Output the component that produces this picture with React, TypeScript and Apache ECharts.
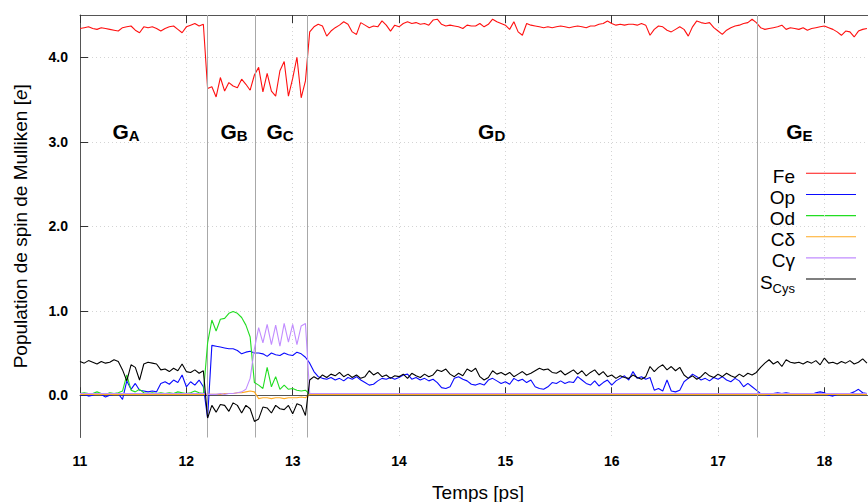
import React, { useEffect, useRef } from "react";
import * as echarts from "echarts";

// sampling grid of the traces (ps)
const T_START = 11;
const T_STEP = 0.04;

// rows of 10 samples, each row = 0.4 ps, starting at 11.0, 11.4, 11.8, ...
const FE = [
  4.34, 4.35, 4.36, 4.34, 4.33, 4.35, 4.34, 4.33, 4.32, 4.31,
  4.35, 4.36, 4.37, 4.32, 4.29, 4.36, 4.35, 4.36, 4.34, 4.31,
  4.34, 4.36, 4.37, 4.33, 4.29, 4.36, 4.38, 4.40, 4.37, 4.39,
  3.63, 3.65, 3.53, 3.76, 3.60, 3.70, 3.66, 3.64, 3.74, 3.68,
  3.61, 3.79, 3.88, 3.59, 3.81, 3.60, 3.54, 3.84, 3.95, 3.54,
  3.75, 4.00, 3.52, 3.72, 4.30, 4.36, 4.39, 4.37, 4.25, 4.31,
  4.35, 4.38, 4.42, 4.39, 4.30, 4.27, 4.41, 4.38, 4.35, 4.37,
  4.36, 4.43, 4.38, 4.31, 4.38, 4.36, 4.40, 4.42, 4.40, 4.41,
  4.39, 4.40, 4.38, 4.44, 4.45, 4.39, 4.37, 4.38, 4.37, 4.36,
  4.34, 4.38, 4.37, 4.37, 4.40, 4.36, 4.39, 4.45, 4.42, 4.40,
  4.38, 4.33, 4.42, 4.30, 4.26, 4.40, 4.38, 4.37, 4.36, 4.35,
  4.36, 4.35, 4.36, 4.37, 4.36, 4.35, 4.36, 4.37, 4.36, 4.35,
  4.37, 4.37, 4.39, 4.40, 4.43, 4.40, 4.38, 4.39, 4.38, 4.39,
  4.39, 4.38, 4.40, 4.38, 4.26, 4.33, 4.37, 4.36, 4.32, 4.30,
  4.33, 4.36, 4.33, 4.25, 4.36, 4.43, 4.41, 4.40, 4.41, 4.35,
  4.31, 4.27, 4.32, 4.35, 4.37, 4.38, 4.40, 4.41, 4.45, 4.41,
  4.35, 4.33, 4.34, 4.35, 4.36, 4.38, 4.33, 4.35, 4.34, 4.33,
  4.35, 4.32, 4.34, 4.35, 4.36, 4.37, 4.35, 4.33, 4.30, 4.26,
  4.31, 4.30, 4.24, 4.31, 4.33, 4.34,
];

const OP = [
  0.00, 0.01, -0.01, 0.00, 0.02, 0.01, -0.02, 0.00, 0.01, 0.02,
  -0.05, 0.17, 0.07, 0.14, 0.06, 0.05, 0.04, 0.05, 0.04, 0.14,
  0.16, 0.13, 0.18, 0.15, 0.24, 0.10, 0.16, 0.12, 0.18, 0.10,
  -0.27, 0.59, 0.58, 0.57, 0.56, 0.55, 0.55, 0.53, 0.49, 0.51,
  0.52, 0.50, 0.50, 0.49, 0.46, 0.50, 0.48, 0.47, 0.50, 0.48,
  0.47, 0.51, 0.49, 0.45, 0.38, 0.28, 0.22, 0.20, 0.19, 0.21,
  0.18, 0.20, 0.17, 0.21, 0.19, 0.22, 0.18, 0.15, 0.12, 0.13,
  0.17, 0.20, 0.19, 0.21, 0.19, 0.21, 0.24, 0.25, 0.19, 0.21,
  0.18, 0.20, 0.17, 0.19, 0.15, 0.09, 0.08, 0.10, 0.20, 0.22,
  0.19, 0.17, 0.13, 0.12, 0.14, 0.12, 0.18, 0.20, 0.17, 0.14,
  0.16, 0.13, 0.20, 0.17, 0.19, 0.15, 0.18, 0.10, 0.08, 0.07,
  0.10, 0.15, 0.14, 0.17, 0.14, 0.16, 0.15, 0.22, 0.18, 0.14,
  0.12, 0.17, 0.11, 0.15, 0.18, 0.12, 0.17, 0.20, 0.23, 0.18,
  0.28, 0.20, 0.22, 0.19, 0.21, 0.06, 0.08, 0.05, 0.18, 0.05,
  0.04, 0.06, 0.16, 0.20, 0.25, 0.22, 0.18, 0.20, 0.17, 0.21,
  0.19, 0.22, 0.18, 0.16, 0.20, 0.17, 0.10, 0.14, 0.10, 0.06,
  0.02, 0.01, 0.00, 0.02, 0.03, 0.02, 0.03, 0.02, 0.02, 0.01,
  0.02, 0.02, 0.01, 0.03, 0.04, 0.03, 0.00, -0.01, 0.01, 0.02,
  0.01, 0.02, 0.04, 0.07, 0.03, 0.02,
];

const OD = [
  0.02, 0.03, 0.02, 0.02, 0.04, 0.02, 0.01, 0.03, 0.02, 0.03,
  0.05, 0.24, 0.06, 0.04, 0.07, 0.03, 0.02, 0.03, 0.02, 0.03,
  0.02, 0.03, 0.02, 0.04, 0.03, 0.02, 0.03, 0.05, 0.03, 0.02,
  0.62, 0.89, 0.76, 0.90, 0.91, 0.97, 0.99, 0.97, 0.92, 0.83,
  0.69, 0.15, 0.12, 0.08, 0.33, 0.10, 0.22, 0.07, 0.12, 0.07,
  0.08, 0.06, 0.05, 0.06, 0.01, 0.01, 0.01, 0.01, 0.01, 0.01,
  0.01, 0.01, 0.02, 0.01, 0.01, 0.01, 0.01, 0.02, 0.01, 0.01,
  0.01, 0.01, 0.01, 0.01, 0.02, 0.01, 0.01, 0.01, 0.01, 0.01,
  0.01, 0.01, 0.01, 0.02, 0.01, 0.01, 0.01, 0.01, 0.01, 0.01,
  0.01, 0.01, 0.01, 0.01, 0.01, 0.02, 0.01, 0.01, 0.01, 0.01,
  0.01, 0.01, 0.01, 0.01, 0.01, 0.01, 0.01, 0.01, 0.02, 0.01,
  0.01, 0.01, 0.01, 0.01, 0.01, 0.01, 0.02, 0.01, 0.01, 0.01,
  0.01, 0.01, 0.01, 0.01, 0.01, 0.01, 0.01, 0.01, 0.01, 0.02,
  0.01, 0.01, 0.01, 0.01, 0.01, 0.01, 0.01, 0.01, 0.01, 0.01,
  0.01, 0.01, 0.02, 0.01, 0.01, 0.01, 0.01, 0.01, 0.01, 0.01,
  0.01, 0.01, 0.01, 0.01, 0.01, 0.01, 0.01, 0.01, 0.01, 0.01,
  0.01, 0.01, 0.01, 0.01, 0.01, 0.01, 0.01, 0.01, 0.01, 0.01,
  0.01, 0.01, 0.01, 0.01, 0.01, 0.01, 0.01, 0.01, 0.01, 0.01,
  0.01, 0.01, 0.01, 0.01, 0.01, 0.01,
];

const CD = [
  0.01, 0.01, 0.01, 0.01, 0.01, 0.01, 0.01, 0.01, 0.01, 0.01,
  0.01, 0.01, 0.01, 0.01, 0.01, 0.01, 0.01, 0.01, 0.01, 0.01,
  0.01, 0.01, 0.01, 0.01, 0.01, 0.01, 0.01, 0.01, 0.01, 0.01,
  0.01, 0.01, 0.01, 0.01, 0.02, 0.02, 0.02, 0.03, 0.03, 0.04,
  0.05, 0.04, -0.04, -0.03, -0.03, -0.04, -0.03, -0.03, -0.04, -0.03,
  -0.03, -0.03, -0.02, -0.03, 0.01, 0.01, 0.01, 0.01, 0.01, 0.01,
  0.01, 0.01, 0.01, 0.01, 0.01, 0.01, 0.01, 0.01, 0.01, 0.01,
  0.01, 0.01, 0.01, 0.01, 0.01, 0.01, 0.01, 0.01, 0.01, 0.01,
  0.01, 0.01, 0.01, 0.01, 0.01, 0.01, 0.01, 0.01, 0.01, 0.01,
  0.01, 0.01, 0.01, 0.01, 0.01, 0.01, 0.01, 0.01, 0.01, 0.01,
  0.01, 0.01, 0.01, 0.01, 0.01, 0.01, 0.01, 0.01, 0.01, 0.01,
  0.01, 0.01, 0.01, 0.01, 0.01, 0.01, 0.01, 0.01, 0.01, 0.01,
  0.01, 0.01, 0.01, 0.01, 0.01, 0.01, 0.01, 0.01, 0.01, 0.01,
  0.01, 0.01, 0.01, 0.01, 0.01, 0.01, 0.01, 0.01, 0.01, 0.01,
  0.01, 0.01, 0.01, 0.01, 0.01, 0.01, 0.01, 0.01, 0.01, 0.01,
  0.01, 0.01, 0.01, 0.01, 0.01, 0.01, 0.01, 0.01, 0.01, 0.01,
  0.01, 0.01, 0.01, 0.01, 0.01, 0.01, 0.01, 0.01, 0.01, 0.01,
  0.01, 0.01, 0.01, 0.01, 0.01, 0.01, 0.01, 0.01, 0.01, 0.01,
  0.01, 0.01, 0.01, 0.01, 0.01, 0.01,
];

const CG = [
  0.02, 0.02, 0.02, 0.02, 0.02, 0.02, 0.02, 0.02, 0.02, 0.02,
  0.02, 0.02, 0.02, 0.02, 0.02, 0.02, 0.02, 0.02, 0.02, 0.02,
  0.02, 0.02, 0.02, 0.02, 0.02, 0.02, 0.02, 0.02, 0.02, 0.02,
  0.01, 0.01, 0.01, 0.02, 0.01, 0.02, 0.02, 0.03, 0.04, 0.07,
  0.20, 0.55, 0.80, 0.62, 0.84, 0.60, 0.83, 0.58, 0.85, 0.63,
  0.84, 0.60, 0.82, 0.85, 0.02, 0.02, 0.02, 0.02, 0.02, 0.02,
  0.02, 0.02, 0.02, 0.02, 0.02, 0.02, 0.02, 0.02, 0.02, 0.02,
  0.02, 0.02, 0.02, 0.02, 0.02, 0.02, 0.02, 0.02, 0.02, 0.02,
  0.02, 0.02, 0.02, 0.02, 0.02, 0.02, 0.02, 0.02, 0.02, 0.02,
  0.02, 0.02, 0.02, 0.02, 0.02, 0.02, 0.02, 0.02, 0.02, 0.02,
  0.02, 0.02, 0.02, 0.02, 0.02, 0.02, 0.02, 0.02, 0.02, 0.02,
  0.02, 0.02, 0.02, 0.02, 0.02, 0.02, 0.02, 0.02, 0.02, 0.02,
  0.02, 0.02, 0.02, 0.02, 0.02, 0.02, 0.02, 0.02, 0.02, 0.02,
  0.02, 0.02, 0.02, 0.02, 0.02, 0.02, 0.02, 0.02, 0.02, 0.02,
  0.02, 0.02, 0.02, 0.02, 0.02, 0.02, 0.02, 0.02, 0.02, 0.02,
  0.02, 0.02, 0.02, 0.02, 0.02, 0.02, 0.02, 0.02, 0.02, 0.02,
  0.02, 0.02, 0.02, 0.02, 0.02, 0.02, 0.02, 0.02, 0.02, 0.02,
  0.02, 0.02, 0.02, 0.02, 0.02, 0.02, 0.02, 0.02, 0.02, 0.02,
  0.02, 0.02, 0.02, 0.02, 0.02, 0.02,
];

const SCYS = [
  0.40, 0.38, 0.41, 0.39, 0.37, 0.40, 0.38, 0.39, 0.42, 0.40,
  0.30, 0.17, 0.36, 0.33, 0.18, 0.37, 0.39, 0.38, 0.37, 0.30,
  0.31, 0.28, 0.32, 0.29, 0.37, 0.28, 0.27, 0.30, 0.26, 0.29,
  -0.27, -0.12, -0.20, -0.11, -0.12, -0.19, -0.09, -0.12, -0.21, -0.12,
  -0.16, -0.31, -0.28, -0.14, -0.15, -0.21, -0.12, -0.16, -0.17, -0.12,
  -0.22, -0.10, -0.12, -0.24, 0.18, 0.22, 0.19, 0.24, 0.21, 0.25,
  0.23, 0.27, 0.22, 0.25, 0.21, 0.24, 0.20, 0.22, 0.29, 0.24,
  0.27, 0.22, 0.24, 0.20, 0.23, 0.22, 0.25, 0.20, 0.26, 0.23,
  0.21, 0.25, 0.22, 0.24, 0.30, 0.28, 0.31, 0.25, 0.22, 0.26,
  0.23, 0.31, 0.28, 0.32, 0.22, 0.18, 0.21, 0.29, 0.25, 0.27,
  0.24, 0.27, 0.22, 0.25, 0.28, 0.24, 0.26, 0.29, 0.32, 0.30,
  0.31, 0.27, 0.26, 0.29, 0.24, 0.27, 0.30, 0.25, 0.29, 0.23,
  0.27, 0.30, 0.24, 0.28, 0.22, 0.24, 0.20, 0.23, 0.21, 0.20,
  0.24, 0.21, 0.19, 0.22, 0.34, 0.28, 0.33, 0.36, 0.30, 0.34,
  0.29, 0.33, 0.24, 0.20, 0.23, 0.19, 0.22, 0.27, 0.23, 0.21,
  0.25, 0.22, 0.26, 0.23, 0.21, 0.25, 0.22, 0.26, 0.24, 0.27,
  0.33, 0.38, 0.42, 0.37, 0.40, 0.34, 0.42, 0.39, 0.38, 0.39,
  0.37, 0.40, 0.38, 0.41, 0.36, 0.44, 0.38, 0.39, 0.37, 0.40,
  0.38, 0.41, 0.37, 0.39, 0.43, 0.38,
];

const SERIES_VALUES = [FE, OP, OD, CD, CG, SCYS];
const SERIES_NAMES = ["Fe", "Op", "Od", "Cδ", "Cγ", "S"];
const SERIES_SUBS = ["", "", "", "", "", "Cys"];
const SERIES_COLORS = ["#ff1010", "#0a0aff", "#22dd22", "#ffaa22", "#c18cff", "#000000"];

// region boundaries (ps) and region labels
const BOUNDARIES = [12.197, 12.653, 13.138, 17.366];
const REGION_T = [11.433, 12.449, 12.881, 14.871, 17.764];
const REGION_V = [3.12, 3.12, 3.12, 3.12, 3.12];
const REGION_SUBS = ["A", "B", "C", "D", "E"];

const X_MIN = 11;
const X_MAX = 18.41;
const Y_MIN = -0.5;
const Y_MAX = 4.5;
const Y_TICKS = [0, 1, 2, 3, 4];

const FONT = "'Liberation Sans', Arial, Helvetica, sans-serif";

export default function App() {
  const ref = useRef<HTMLDivElement>(null);

  useEffect(() => {
    if (!ref.current) return;
    const chart = echarts.init(ref.current, undefined, { renderer: "svg" });

    const lineSeries = SERIES_VALUES.map((vals, k) => {
      const s: any = {
        name: SERIES_NAMES[k] + SERIES_SUBS[k],
        type: "line",
        data: vals.map((v, i) => [+(T_START + i * T_STEP).toFixed(2), v]),
        showSymbol: false,
        symbol: "none",
        lineStyle: { color: SERIES_COLORS[k], width: 1.1 },
        itemStyle: { color: SERIES_COLORS[k] },
        z: 3 + k,
        silent: true,
      };
      if (k === 0) {
        s.markLine = {
          silent: true,
          symbol: ["none", "none"],
          label: { show: false },
          lineStyle: { color: "#a8a8a8", type: "solid", width: 1 },
          data: BOUNDARIES.map((b) => ({ xAxis: b })),
        };
      }
      return s;
    });

    const regionSeries = {
      type: "scatter",
      data: REGION_T.map((t, i) => [t, REGION_V[i], REGION_SUBS[i]]),
      symbolSize: 0,
      silent: true,
      z: 20,
      itemStyle: { opacity: 1, color: "#000" },
      label: {
        show: true,
        position: "inside",
        color: "#000",
        opacity: 1,
        textBorderWidth: 0,
        formatter: (p: any) => `{g|G}{s|${p.data[2]}}`,
        rich: {
          g: { fontSize: 21, fontWeight: "bold", fontFamily: FONT, color: "#000", textBorderWidth: 0 },
          s: {
            fontSize: 15,
            fontWeight: "bold",
            fontFamily: FONT,
            color: "#000",
            textBorderWidth: 0,
            padding: [7, 0, 0, 0],
          },
        },
      },
    };

    const legendGraphics: any[] = [];
    SERIES_NAMES.forEach((n, k) => {
      const ly = 173.3 + k * 21.15;
      const sub = SERIES_SUBS[k];
      legendGraphics.push({
        type: "text",
        x: 795,
        y: ly + 3,
        silent: true,
        style: {
          text: sub ? `{a|${n}}{b|${sub}}` : `{a|${n}}`,
          align: "right",
          verticalAlign: "middle",
          fill: "#000",
          rich: {
            a: { fontSize: 19, fontFamily: FONT, fill: "#000" },
            b: { fontSize: 13, fontFamily: FONT, fill: "#000", padding: [12, 0, 0, 0] },
          },
        },
      });
      legendGraphics.push({
        type: "line",
        silent: true,
        shape: { x1: 806, y1: ly, x2: 856, y2: ly },
        style: { stroke: SERIES_COLORS[k], lineWidth: 1.1 },
      });
    });

    const axisLineStyle = { color: "#555", width: 1 };
    const gridLine = { show: true, lineStyle: { color: "#d4d4d4", type: [1, 3] as any, width: 1 } };

    chart.setOption({
      animation: false,
      backgroundColor: "#ffffff",
      grid: { left: 80, right: 0, top: 15, bottom: 64.5, containLabel: false, outerBoundsMode: "none" },
      xAxis: [
        {
          type: "value",
          min: X_MIN,
          max: X_MAX,
          interval: 1,
          position: "bottom",
          axisLine: { show: true, lineStyle: axisLineStyle },
          axisTick: { show: true, inside: true, length: 8, lineStyle: { color: "#333" } },
          axisLabel: {
            show: true,
            margin: 16,
            fontSize: 14,
            fontWeight: "bold",
            fontFamily: FONT,
            color: "#000",
            showMaxLabel: false,
            formatter: (v: number) => String(Math.round(v)),
          },
          splitLine: gridLine,
          name: "Temps [ps]",
          nameLocation: "middle",
          nameGap: 45,
          nameTextStyle: { fontSize: 19, fontFamily: FONT, color: "#000", padding: [0, 0, 0, 8] },
        },
        {
          type: "value",
          min: X_MIN,
          max: X_MAX,
          interval: 1,
          position: "top",
          axisLine: { show: true, lineStyle: axisLineStyle },
          axisTick: { show: true, inside: true, length: 8, lineStyle: { color: "#333" } },
          axisLabel: { show: false },
          splitLine: { show: false },
        },
      ],
      yAxis: {
        type: "value",
        min: Y_MIN,
        max: Y_MAX,
        axisLine: { show: true, lineStyle: axisLineStyle },
        axisTick: { show: true, inside: true, length: 8, customValues: Y_TICKS, lineStyle: { color: "#333" } },
        axisLabel: {
          show: true,
          customValues: Y_TICKS,
          margin: 12,
          fontSize: 14,
          fontWeight: "bold",
          fontFamily: FONT,
          color: "#000",
          padding: [6, 0, 0, 0],
          formatter: (v: number) => v.toFixed(1),
        },
        splitLine: gridLine,
        name: "{n|Population de spin de Mulliken [}{i|e}{n|]}",
        nameLocation: "middle",
        nameGap: 50,
        nameRotate: 90,
        nameTextStyle: {
          rich: {
            n: { fontSize: 19, fontFamily: FONT, color: "#000" },
            i: { fontSize: 19, fontFamily: FONT, color: "#000", fontStyle: "italic" },
          },
        },
      },
      series: [...lineSeries, regionSeries],
      graphic: legendGraphics,
    });

    return () => chart.dispose();
  }, []);

  return (
    <div
      ref={ref}
      style={{ position: "fixed", left: 0, top: 0, width: 868, height: 502, background: "#fff" }}
    />
  );
}
